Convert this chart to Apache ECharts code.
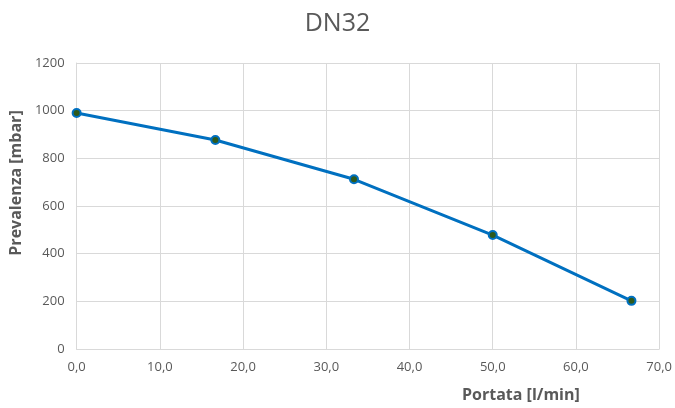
<!DOCTYPE html>
<html>
<head>
<meta charset="utf-8">
<script src="https://cdn.jsdelivr.net/npm/echarts@6/dist/echarts.min.js"></script>
<style>
  html, body { margin: 0; padding: 0; background: #fff; }
  #chart { width: 675px; height: 408px; }
</style>
</head>
<body>
<div id="chart"></div>
<script>
// Pump curve for DN32: flow rate vs. head
const chartTitle = 'DN32';
const flowRate = [0, 16.67, 33.33, 50, 66.67];      // Portata [l/min]
const head = [990, 877, 712, 478, 202];             // Prevalenza [mbar]
const xTitle = 'Portata [l/min]';
const yTitle = 'Prevalenza [mbar]';

const points = flowRate.map((x, i) => [x, head[i]]);
const fontFamily = '"Open Sans", "Noto Sans", sans-serif';
const textGray = '#595959';
const gridGray = '#d9d9d9';

const chart = echarts.init(document.getElementById('chart'));
chart.setOption({
  animation: false,
  title: {
    text: chartTitle,
    left: 'center',
    top: 6,
    textStyle: { fontFamily, fontSize: 25, fontWeight: 'normal', color: textGray }
  },
  grid: { left: 74, right: 15, top: 63, bottom: 55 },
  xAxis: {
    type: 'value',
    min: 0, max: 70, interval: 10,
    name: xTitle,
    nameLocation: 'middle',
    nameGap: 38,
    nameTextStyle: { fontFamily, fontSize: 16, fontWeight: 'bold', color: textGray, padding: [0, 0, 0, 306] },
    axisLine: { show: true, lineStyle: { color: gridGray, width: 1 } },
    axisTick: { show: false },
    axisLabel: {
      fontFamily, fontSize: 13, color: textGray, margin: 12,
      formatter: v => v.toFixed(1).replace('.', ',')
    },
    splitLine: { show: true, lineStyle: { color: gridGray, width: 1 } }
  },
  yAxis: {
    type: 'value',
    min: 0, max: 1200, interval: 200,
    name: yTitle,
    nameLocation: 'middle',
    nameGap: 50,
    nameTextStyle: { fontFamily, fontSize: 16, fontWeight: 'bold', color: textGray, padding: [0, 0, 0, 46] },
    axisLine: { show: true, lineStyle: { color: gridGray, width: 1 } },
    axisTick: { show: false },
    axisLabel: { fontFamily, fontSize: 13, color: textGray, margin: 12, formatter: v => String(v) },
    splitLine: { show: true, lineStyle: { color: gridGray, width: 1 } }
  },
  series: [{
    type: 'line',
    data: points,
    symbol: 'circle',
    symbolSize: 8,
    lineStyle: { color: '#0070C0', width: 3 },
    itemStyle: { color: '#2E5A1C', borderColor: '#0070C0', borderWidth: 2 }
  }]
});
</script>
</body>
</html>
